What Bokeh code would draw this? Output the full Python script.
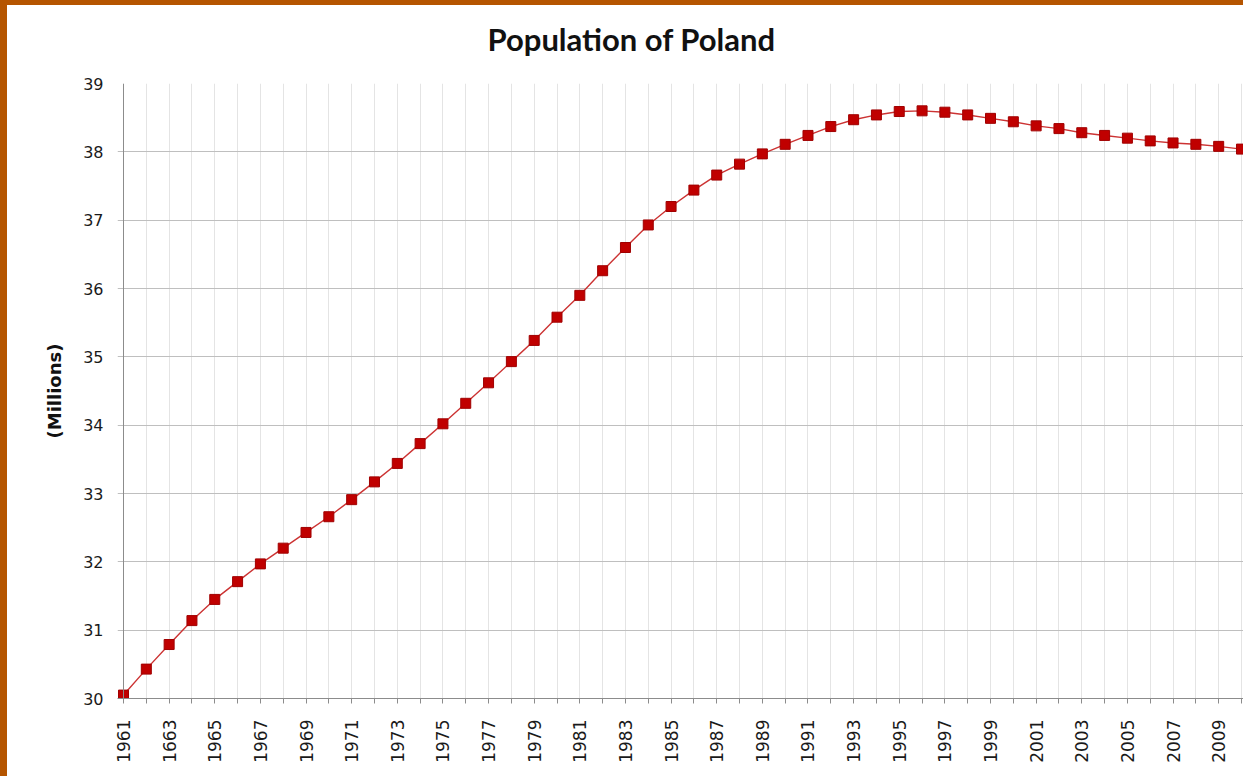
from bokeh.plotting import figure
from bokeh.models import FixedTicker, Range1d, Span, Title
from bokeh.embed import file_html
from bokeh.resources import INLINE

years = list(range(1961, 2011))
population = [
    30.05, 30.43, 30.79, 31.14, 31.45, 31.71, 31.97, 32.20, 32.43, 32.66,
    32.91, 33.17, 33.44, 33.73, 34.02, 34.32, 34.62, 34.93, 35.24, 35.58,
    35.90, 36.26, 36.60, 36.93, 37.20, 37.44, 37.66, 37.82, 37.97, 38.11,
    38.24, 38.37, 38.47, 38.54, 38.59, 38.60, 38.58, 38.54, 38.49, 38.44,
    38.38, 38.34, 38.28, 38.24, 38.20, 38.16, 38.13, 38.11, 38.08, 38.04,
]
label_years = list(range(1961, 2010, 2))
label_text = [
    "1961", "1663", "1965", "1967", "1969", "1971", "1973", "1975", "1977",
    "1979", "1981", "1983", "1985", "1987", "1989", "1991", "1993", "1995",
    "1997", "1999", "2001", "2003", "2005", "2007", "2009",
]
y_ticks = list(range(30, 40))
title_text = "Population of Poland"

p = figure(
    width=1243, height=776,
    output_backend="svg", toolbar_location=None,
    x_range=Range1d(1960.737, 2010.088),
    y_range=Range1d(30, 39),
    min_border_left=110, min_border_right=7,
    min_border_top=78, min_border_bottom=83,
    background_fill_color="white", border_fill_color="white",
)
p.outline_line_color = None
# orange slide frame along the top and left edges
p.styles = {"border-top": "5px solid #b55500", "border-left": "7px solid #b55500"}

# spacer between plot area and title (nearest the frame)
p.add_layout(Title(text=" ", text_font_size="2px", standoff=22), "above")

# Title
p.title.text = title_text
p.title.align = "left"
p.title.offset = 370
p.title.text_font = "Lato"
p.title.text_font_style = "bold"
p.title.text_font_size = "31px"
p.title.text_color = "#111111"
p.title.standoff = 0

# X axis
overrides = {y: "" for y in years}
for yr, txt in zip(label_years, label_text):
    overrides[yr] = txt
p.xaxis.ticker = FixedTicker(ticks=years)
p.xaxis.major_label_overrides = overrides
p.xaxis.major_label_orientation = 3.14159265 / 2
p.xaxis.major_label_text_font = "DejaVu Sans"
p.xaxis.major_label_text_font_size = "17px"
p.xaxis.major_label_text_color = "#1a1a1a"
p.xaxis.major_label_standoff = 16
p.xaxis.major_tick_out = 5
p.xaxis.major_tick_in = 0
p.xaxis.minor_tick_line_color = None
p.xaxis.axis_line_color = "#8c8c8c"
p.xaxis.major_tick_line_color = "#8c8c8c"

# Y axis
p.yaxis.ticker = FixedTicker(ticks=y_ticks)
p.yaxis.major_label_text_font = "DejaVu Sans"
p.yaxis.major_label_text_font_size = "16px"
p.yaxis.major_label_text_color = "#1a1a1a"
p.yaxis.major_label_standoff = 14
p.yaxis.major_tick_out = 0
p.yaxis.major_tick_in = 0
p.yaxis.minor_tick_line_color = None
p.yaxis.axis_line_color = None
p.yaxis.axis_label = "(Millions)"
p.yaxis.axis_label_text_font = "DejaVu Sans"
p.yaxis.axis_label_text_font_style = "bold"
p.yaxis.axis_label_text_font_size = "18px"
p.yaxis.axis_label_text_color = "#111111"
p.yaxis.axis_label_standoff = 15

# Grids
p.xgrid.ticker = FixedTicker(ticks=years)
p.xgrid.grid_line_color = "#e4e4e4"
p.xgrid.grid_line_width = 1
p.ygrid.ticker = FixedTicker(ticks=y_ticks)
p.ygrid.grid_line_color = "#bfbfbf"
p.ygrid.grid_line_width = 1

# Y axis line at 1961
p.add_layout(Span(location=years[0], dimension="height",
                  line_color="#8c8c8c", line_width=1))

# Series
p.line(years, population, line_color="#cc3333", line_width=1.4)
p.scatter(years, population, marker="square", size=10,
          fill_color="#c00000", line_color="#a00000", line_width=1)

open("out.html", "w").write(file_html(p, INLINE))
